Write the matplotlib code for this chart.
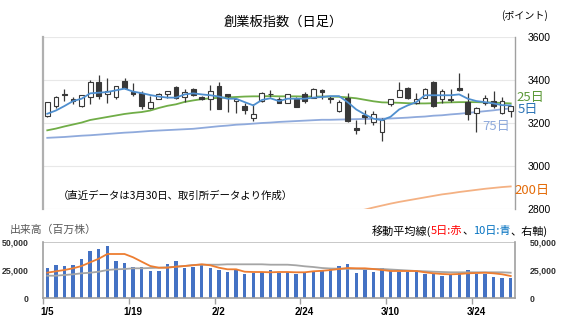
import numpy as np
import matplotlib.pyplot as plt
from matplotlib.ticker import FuncFormatter

plt.rcParams['font.family'] = ['Noto Sans CJK JP', 'DejaVu Sans']

# ---------------- data ----------------
tick_labels = ['1/5', '1/19', '2/2', '2/24', '3/10', '3/24']
tick_pos = [0, 10, 20, 30, 40, 50]

opens = [3232, 3279, 3335, 3310, 3279, 3323, 3391, 3333, 3320, 3397,
         3346, 3341, 3271, 3313, 3337, 3369, 3321, 3360, 3323, 3310,
         3372, 3333, 3304, 3279, 3224, 3302, 3335, 3313, 3294, 3310,
         3333, 3318, 3353, 3318, 3255, 3318, 3177, 3236, 3204, 3157,
         3287, 3323, 3365, 3294, 3318, 3391, 3310, 3313, 3365, 3297,
         3248, 3294, 3302, 3248, 3255]
highs = [3300, 3326, 3357, 3321, 3332, 3400, 3422, 3407, 3374, 3411,
         3388, 3349, 3325, 3341, 3351, 3372, 3360, 3363, 3326, 3375,
         3391, 3335, 3313, 3291, 3287, 3344, 3353, 3323, 3336, 3323,
         3345, 3363, 3357, 3326, 3305, 3338, 3213, 3259, 3255, 3224,
         3313, 3391, 3368, 3341, 3363, 3397, 3357, 3360, 3432, 3341,
         3275, 3331, 3349, 3320, 3280]
lows = [3230, 3271, 3302, 3290, 3274, 3287, 3313, 3294, 3313, 3360,
        3326, 3263, 3266, 3310, 3318, 3313, 3297, 3325, 3307, 3260,
        3263, 3250, 3247, 3244, 3208, 3300, 3323, 3291, 3291, 3274,
        3295, 3315, 3313, 3294, 3253, 3204, 3151, 3194, 3193, 3115,
        3279, 3320, 3313, 3287, 3315, 3274, 3294, 3297, 3349, 3216,
        3157, 3283, 3271, 3240, 3229]
closes = [3297, 3323, 3330, 3302, 3330, 3391, 3326, 3351, 3372, 3365,
          3337, 3279, 3299, 3335, 3349, 3318, 3344, 3329, 3310, 3349,
          3266, 3325, 3313, 3260, 3240, 3341, 3333, 3294, 3333, 3276,
          3302, 3360, 3346, 3310, 3297, 3208, 3166, 3226, 3240, 3216,
          3310, 3353, 3318, 3313, 3360, 3279, 3349, 3307, 3353, 3240,
          3271, 3318, 3279, 3302, 3279]

ma5 = [3243, 3258, 3279, 3302, 3313, 3338, 3341, 3344, 3352, 3360,
       3346, 3339, 3330, 3323, 3318, 3318, 3333, 3338, 3333, 3329,
       3323, 3313, 3313, 3297, 3282, 3307, 3315, 3302, 3313, 3313,
       3313, 3318, 3321, 3325, 3325, 3297, 3263, 3240, 3220, 3213,
       3229, 3263, 3282, 3297, 3329, 3329, 3329, 3329, 3333, 3313,
       3302, 3297, 3291, 3283, 3282]
ma25 = [3166, 3174, 3184, 3193, 3202, 3214, 3221, 3228, 3235, 3242,
        3247, 3251, 3258, 3270, 3280, 3287, 3298, 3305, 3311, 3315,
        3317, 3319, 3321, 3323, 3324, 3324, 3325, 3324, 3324, 3324,
        3323, 3323, 3323, 3323, 3322, 3319, 3315, 3308, 3301, 3296,
        3295, 3294, 3292, 3291, 3291, 3292, 3295, 3296, 3297, 3297,
        3297, 3296, 3295, 3293, 3291]
ma75 = [3131, 3133, 3135, 3138, 3141, 3143, 3146, 3149, 3152, 3155,
        3157, 3160, 3163, 3165, 3167, 3169, 3171, 3173, 3177, 3181,
        3185, 3188, 3192, 3194, 3197, 3200, 3202, 3205, 3207, 3209,
        3211, 3213, 3215, 3215, 3216, 3217, 3218, 3219, 3219, 3220,
        3221, 3223, 3225, 3228, 3230, 3234, 3236, 3240, 3243, 3247,
        3251, 3255, 3259, 3264, 3268]
ma200 = [2470, 2479, 2488, 2497, 2506, 2515, 2524, 2533, 2542, 2551,
         2560, 2569, 2578, 2587, 2596, 2605, 2614, 2623, 2632, 2641,
         2650, 2659, 2668, 2677, 2686, 2695, 2704, 2713, 2722, 2731,
         2740, 2749, 2758, 2767, 2776, 2781, 2789, 2797, 2807, 2816,
         2825, 2833, 2840, 2847, 2854, 2861, 2868, 2873, 2879, 2884,
         2889, 2894, 2898, 2902, 2905]

volume = [27350, 29390, 28680, 29390, 34720, 42450, 43960, 46710, 33120, 31350,
          27530, 27530, 24510, 24510, 30460, 32940, 27350, 27620, 29300, 27170,
          25130, 23620, 25130, 22020, 22640, 23350, 25130, 22910, 23350, 21840,
          22910, 24240, 25400, 25750, 28680, 30190, 22470, 25130, 23090, 26640,
          24240, 23620, 23090, 23620, 21580, 21580, 20070, 20690, 22200, 25130,
          21580, 21580, 19180, 17760, 18290]
vol_ma_a = [22730, 23980, 25130, 26640, 28680, 31970, 35160, 39340, 39340, 39340,
            36410, 32500, 28680, 27170, 27170, 28060, 28680, 29390, 30190, 29300,
            27170, 25750, 25750, 23620, 23350, 23350, 23090, 23350, 23350, 23090,
            23090, 23980, 24420, 25130, 26020, 26910, 26640, 26640, 26020, 25130,
            24240, 24240, 24240, 24240, 23090, 22200, 21580, 21310, 21580, 22200,
            22470, 22730, 22200, 21310, 19800]
vol_ma_b = [20070, 20070, 20690, 21310, 22200, 22730, 23620, 25130, 25750, 26020,
            26640, 26640, 26910, 27170, 27530, 28060, 28680, 29570, 29840, 29840,
            29840, 30190, 30190, 30190, 30190, 30190, 29840, 29840, 29840, 29300,
            28420, 27790, 26910, 26460, 26280, 26200, 26200, 26020, 26020, 26020,
            25570, 25130, 24690, 24240, 23980, 23620, 23350, 23090, 23090, 23090,
            23090, 23090, 23090, 23090, 22730]

# ---------------- figure ----------------
W, H = 567, 334
fig = plt.figure(figsize=(W / 100, H / 100), dpi=100)


def fx(px):
    return px / W


def fy(py):
    return 1 - py / H


x = np.arange(len(closes))
o = np.array(opens)
c = np.array(closes)

ax1 = fig.add_axes([fx(43), fy(209), fx(472), 172 / H])
ax1.set_xlim(-0.5, len(x) - 0.5)
ax1.set_ylim(2800, 3600)

# moving averages
ax1.plot(x, ma200, color='#f4b183', lw=1.3, zorder=2)
ax1.plot(x, ma75, color='#8faadc', lw=1.3, zorder=2)
ax1.plot(x, ma25, color='#70ad47', lw=1.3, zorder=2)

# candles
up = c >= o
ax1.vlines(x, lows, highs, color='#383838', lw=0.9, zorder=3)
body = np.maximum(np.abs(c - o), 1.5)
ax1.bar(x[up], body[up], bottom=np.minimum(o, c)[up], width=0.55,
        color='white', edgecolor='#383838', lw=0.8, zorder=4)
ax1.bar(x[~up], body[~up], bottom=np.minimum(o, c)[~up], width=0.55,
        color='#383838', edgecolor='#383838', lw=0.8, zorder=4)

ax1.plot(x, ma5, color='#4f8fcf', lw=1.3, zorder=5)

ax1.set_yticks([2800, 3000, 3200, 3400, 3600])
ax1.yaxis.tick_right()
ax1.tick_params(axis='y', length=0, pad=9, labelsize=7.5)
for t in ax1.get_yticklabels():
    t.set_fontfamily('Liberation Sans')
ax1.set_xticks([])
ax1.grid(axis='y', color='#e8e8e8', lw=0.8)
ax1.set_axisbelow(True)
for s in ['top', 'bottom']:
    ax1.spines[s].set_visible(False)
ax1.spines['left'].set_color('#b0b0b0')
ax1.spines['left'].set_linewidth(1.6)
ax1.spines['right'].set_color('#a0a0a0')
ax1.spines['right'].set_linewidth(1.0)

# volume panel
ax2 = fig.add_axes([fx(43), fy(298.3), fx(472), 56.3 / H])
ax2.set_xlim(-0.5, len(x) - 0.5)
ax2.set_ylim(0, 50000)
ax2.bar(x, volume, width=0.4, color='#4472c4', zorder=2)
ax2.plot(x, vol_ma_b, color='#a5a5a5', lw=1.3, zorder=3)
ax2.plot(x, vol_ma_a, color='#ed7d31', lw=1.3, zorder=4)
ax2.axhline(50000, color='#bfbfbf', lw=1.2, zorder=1)

ax2.set_yticks([0, 25000, 50000])
ax2.yaxis.set_major_formatter(FuncFormatter(lambda v, p: f'{int(v):,}'))
ax2.tick_params(axis='y', left=False, right=False, labelleft=True,
                labelright=True, pad=7, labelsize=6.3)
for t in ax2.get_yticklabels():
    t.set_fontfamily('Liberation Sans')
    t.set_fontweight('bold')
    t.set_color('#303030')

ax2.set_xticks(tick_pos)
ax2.set_xticklabels(tick_labels)
ax2.set_xticks([-0.5, 9.5, 19.5, 29.5, 39.5, 49.5], minor=True)
ax2.tick_params(axis='x', which='major', length=0, pad=6, labelsize=7)
ax2.tick_params(axis='x', which='minor', length=4, color='#a0a0a0', width=1)
for t in ax2.get_xticklabels():
    t.set_fontfamily('Liberation Sans')
    t.set_fontweight('bold')
ax2.spines['top'].set_visible(False)
for s in ['left', 'right', 'bottom']:
    ax2.spines[s].set_color('#a0a0a0')
    ax2.spines[s].set_linewidth(1.2)

# ---------------- texts ----------------
fig.text(fx(283), fy(22), '創業板指数（日足）', ha='center', va='center',
         fontsize=9.5)
fig.text(fx(548), fy(16), '(ポイント)', ha='right', va='center', fontsize=7.2)
fig.text(fx(516), fy(97), '25日', ha='left', va='center', fontsize=9.5,
         color='#5e9a3a')
fig.text(fx(518), fy(110), '5日', ha='left', va='center', fontsize=9.5,
         color='#2e75b6')
fig.text(fx(510), fy(127), '75日', ha='right', va='center', fontsize=9.5,
         color='#8faadc')
fig.text(fx(514), fy(190), '200日', ha='left', va='center', fontsize=9.5,
         color='#e46c0a')
fig.text(fx(58), fy(196), '（直近データは3月30日、取引所データより作成）',
         ha='left', va='center', fontsize=7.5)
fig.text(fx(10), fy(230), '出来高（百万株）', ha='left', va='center',
         fontsize=7.8, color='#595959')

# right-aligned multi-colour legend, chained right to left
parts = [('、右軸)', 'black'), ('10日:青', '#0070c0'), ('、', 'black'),
         ('5日:赤', '#ff0000'), ('移動平均線(', 'black')]
prev = fig.text(fx(548), fy(231), parts[0][0], ha='right', va='center',
                fontsize=8, color=parts[0][1])
for txt, col in parts[1:]:
    prev = ax2.annotate(txt, xy=(0, 0.5), xycoords=prev, ha='right',
                        va='center', fontsize=8, color=col,
                        annotation_clip=False)

fig.savefig('out.png', dpi=100)
